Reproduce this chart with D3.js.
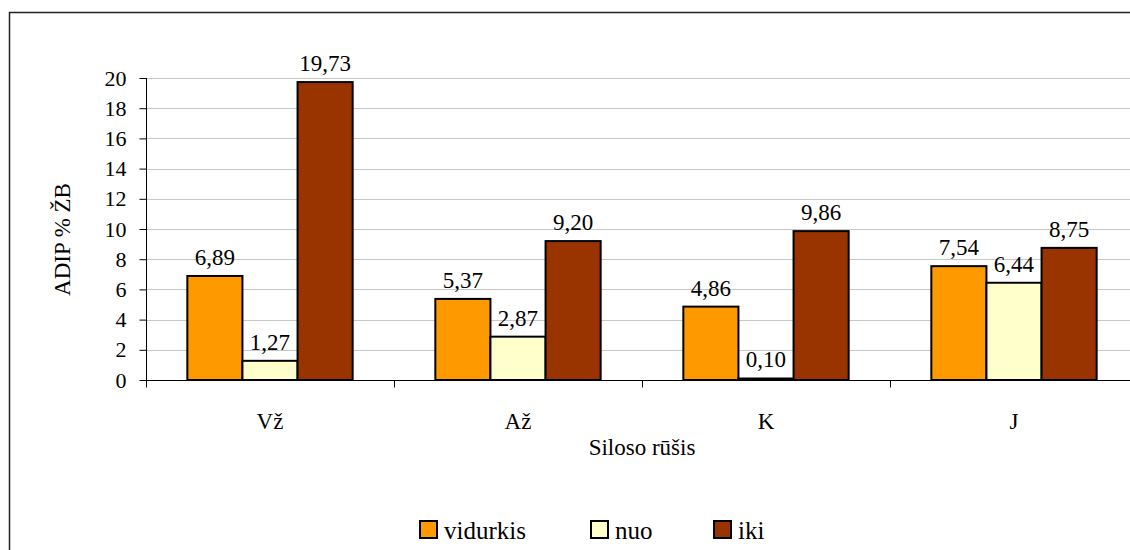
<!DOCTYPE html>
<html>
<head>
<meta charset="utf-8">
<script src="https://cdn.jsdelivr.net/npm/d3@7"></script>
<style>
  html, body { margin: 0; padding: 0; background: #fff; }
</style>
</head>
<body>
<svg id="chart" width="1130" height="550"></svg>
<script>
const categories = ["Vž", "Až", "K", "J"];
const seriesNames = ["vidurkis", "nuo", "iki"];
const vidurkis = [6.89, 5.37, 4.86, 7.54];
const nuo = [1.27, 2.87, 0.10, 6.44];
const iki = [19.73, 9.20, 9.86, 8.75];
const yTicks = [0, 2, 4, 6, 8, 10, 12, 14, 16, 18, 20];
const colors = ["#FF9900", "#FFFFCC", "#993300"];

const FONT = "'Times New Roman', 'Liberation Serif', Times, serif";
const series = [vidurkis, nuo, iki];
const svg = d3.select("#chart").attr("font-family", FONT);

// outer chart frame
svg.append("rect")
  .attr("x", 9.5).attr("y", 12.5)
  .attr("width", 1140).attr("height", 560)
  .attr("fill", "none").attr("stroke", "#222").attr("stroke-width", 1.5);

const plot = { left: 146, right: 1138, top: 78, bottom: 380 };

const x0 = d3.scaleBand().domain(categories).range([plot.left, plot.right]).paddingInner(0).paddingOuter(0);
// three bars per group, gap of 1.5 bar widths
const barW = x0.bandwidth() / 4.5;
const x1 = d3.scaleBand().domain(seriesNames).range([0, barW * 3]).padding(0);
const y = d3.scaleLinear().domain([0, 20]).range([plot.bottom, plot.top]);

// gridlines
svg.append("g").selectAll("line").data(yTicks.filter(t => t > 0)).join("line")
  .attr("x1", plot.left).attr("x2", plot.right)
  .attr("y1", d => Math.round(y(d)) + 0.5).attr("y2", d => Math.round(y(d)) + 0.5)
  .attr("stroke", "#c8c8c8").attr("stroke-width", 1);

// bars
const groups = svg.append("g").selectAll("g").data(categories).join("g")
  .attr("transform", d => `translate(${x0(d) + (x0.bandwidth() - barW * 3) / 2},0)`);

groups.selectAll("rect").data((c, i) => seriesNames.map((s, k) => ({ s, k, v: series[k][i] }))).join("rect")
  .attr("x", d => x1(d.s))
  .attr("y", d => y(d.v))
  .attr("width", x1.bandwidth())
  .attr("height", d => y(0) - y(d.v))
  .attr("fill", d => colors[d.k])
  .attr("stroke", "#000").attr("stroke-width", 2);

groups.selectAll("text").data((c, i) => seriesNames.map((s, k) => ({ s, k, v: series[k][i] }))).join("text")
  .attr("x", d => x1(d.s) + x1.bandwidth() / 2)
  .attr("y", d => y(d.v) - 11)
  .attr("text-anchor", "middle")
  .attr("font-size", 23)
  .attr("fill", "#000")
  .text(d => d.v.toFixed(2).replace(".", ","));

// y axis
const yAxis = d3.axisLeft(y).tickValues(yTicks).tickSize(7).tickPadding(13).tickFormat(d => d);
const ya = svg.append("g").attr("transform", `translate(${plot.left + 0.5},0)`).call(yAxis)
  .attr("font-family", FONT).attr("font-size", 22);
ya.select(".domain").attr("d", `M0,${plot.top}V${plot.bottom}`).attr("stroke", "#000");
ya.selectAll(".tick line").attr("stroke", "#000");
ya.selectAll(".tick text").attr("fill", "#000");

// x axis
const xAxis = d3.axisBottom(x0).tickSize(0).tickPadding(32);
const xa = svg.append("g").attr("transform", `translate(0,${plot.bottom + 0.5})`).call(xAxis)
  .attr("font-family", FONT).attr("font-size", 23);
xa.select(".domain").attr("d", `M${plot.left},0H${plot.right}`).attr("stroke", "#000");
xa.selectAll(".tick text").attr("fill", "#000");
// category separators
xa.append("g").selectAll("line").data(categories.slice(1)).join("line")
  .attr("x1", d => Math.round(x0(d)) + 0.5).attr("x2", d => Math.round(x0(d)) + 0.5)
  .attr("y1", 0).attr("y2", 7).attr("stroke", "#000");
xa.append("line").attr("x1", plot.left + 0.5).attr("x2", plot.left + 0.5).attr("y1", 0).attr("y2", 7).attr("stroke", "#000");

// axis titles
svg.append("text")
  .attr("x", 642).attr("y", 455)
  .attr("text-anchor", "middle").attr("font-size", 23)
  .text("Siloso rūšis");

svg.append("text")
  .attr("transform", "translate(70,239.5) rotate(-90)")
  .attr("text-anchor", "middle").attr("font-size", 23)
  .text("ADIP % ŽB");

// legend
const legendX = [420, 591, 714];
const legend = svg.append("g").selectAll("g").data(seriesNames).join("g")
  .attr("transform", (d, i) => `translate(${legendX[i]},521)`);
legend.append("rect")
  .attr("width", 17).attr("height", 17)
  .attr("fill", (d, i) => colors[i])
  .attr("stroke", "#000").attr("stroke-width", 2);
legend.append("text")
  .attr("x", 24).attr("y", 18)
  .attr("font-size", 25)
  .text(d => d);
</script>
</body>
</html>
